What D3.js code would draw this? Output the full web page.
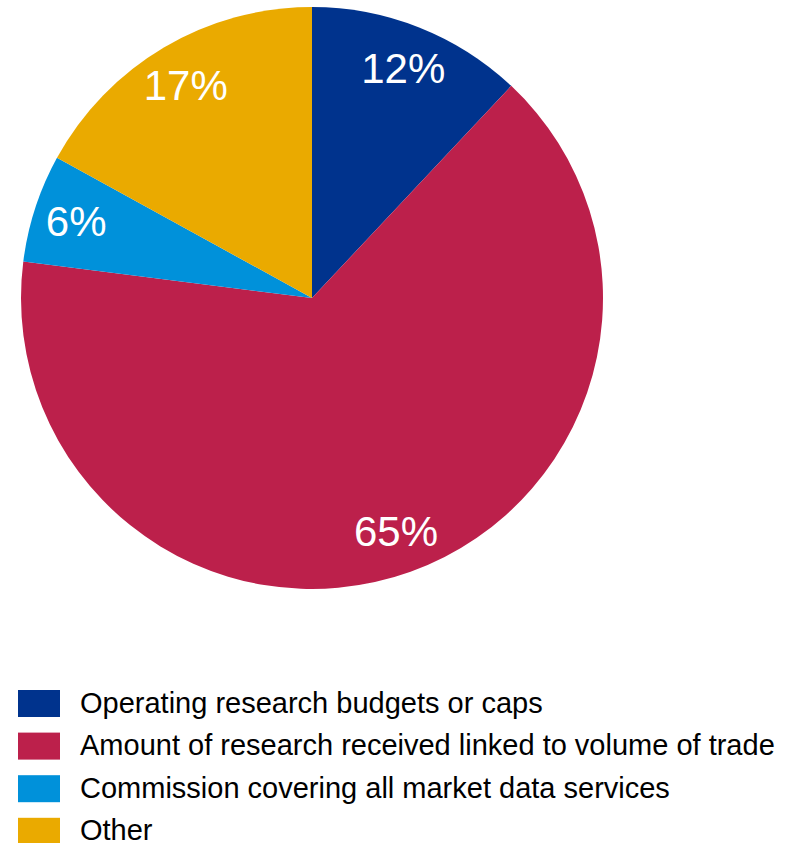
<!DOCTYPE html>
<html>
<head>
<meta charset="utf-8">
<script src="https://cdn.jsdelivr.net/npm/d3@7"></script>
<style>
  html, body { margin: 0; padding: 0; background: #fff; }
  svg { display: block; font-family: "Liberation Sans", Arial, sans-serif; }
</style>
</head>
<body>
<svg id="chart" width="798" height="843"></svg>
<script>
// Share of responses by payment method
const categories = [
  "Operating research budgets or caps",
  "Amount of research received linked to volume of trade",
  "Commission covering all market data services",
  "Other"
];
const shares = [12, 65, 6, 17];
const colors = ["#00338D", "#BC204B", "#0091DA", "#EAAA00"];

const data = categories.map((c, i) => ({ category: c, value: shares[i], color: colors[i] }));

const svg = d3.select("#chart");
const cx = 312, cy = 298, radius = 291;

const pie = d3.pie().value(d => d.value).sort(null);
const arcs = pie(data);
const arc = d3.arc().innerRadius(0).outerRadius(radius);
const labelArc = d3.arc().innerRadius(248).outerRadius(248);

const g = svg.append("g").attr("transform", `translate(${cx},${cy})`);

g.selectAll("path.slice")
  .data(arcs)
  .join("path")
  .attr("class", "slice")
  .attr("d", arc)
  .attr("fill", d => d.data.color);

g.selectAll("text.pct")
  .data(arcs)
  .join("text")
  .attr("class", "pct")
  .attr("transform", d => `translate(${labelArc.centroid(d)})`)
  .attr("text-anchor", "middle")
  .attr("dy", "0.36em")
  .attr("fill", "#fff")
  .attr("font-size", 42)
  .text(d => d.data.value + "%");

// Legend
const legend = svg.append("g").attr("transform", "translate(18,690)");
const rowH = 42.6;
const rows = legend.selectAll("g.row")
  .data(data)
  .join("g")
  .attr("class", "row")
  .attr("transform", (d, i) => `translate(0,${i * rowH})`);

rows.append("rect")
  .attr("width", 42)
  .attr("height", 27)
  .attr("fill", d => d.color);

rows.append("text")
  .attr("x", 62)
  .attr("y", 22.5)
  .attr("font-size", 29)
  .attr("fill", "#000")
  .text(d => d.category);
</script>
</body>
</html>
